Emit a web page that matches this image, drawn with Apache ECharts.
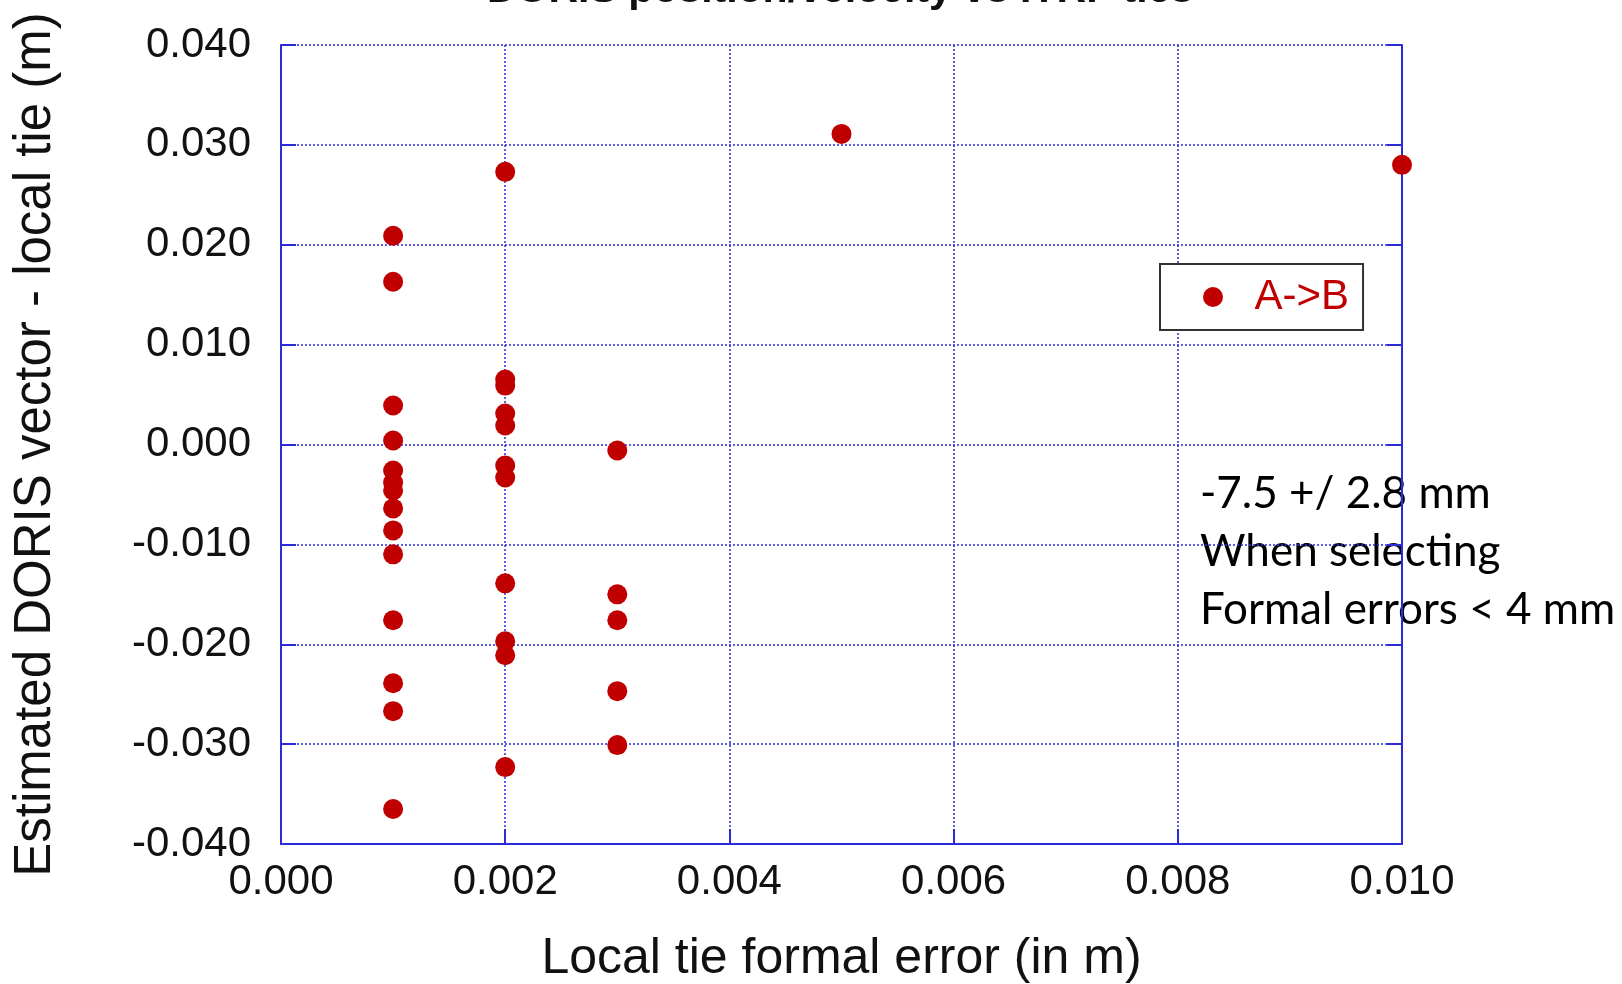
<!DOCTYPE html>
<html>
<head>
<meta charset="utf-8">
<title>Local tie scatter</title>
<script src="https://cdn.jsdelivr.net/npm/echarts@6/dist/echarts.min.js"></script>
<style>
  html, body { margin: 0; padding: 0; background: #fff; }
  #chart { width: 1622px; height: 984px; }
</style>
</head>
<body>
<div id="chart"></div>
<script>
// local tie formal error (m) and DORIS vector - local tie (m)
var formalError = [
  0.001, 0.001, 0.001, 0.001, 0.001, 0.001, 0.001, 0.001, 0.001, 0.001, 0.001, 0.001, 0.001, 0.001,
  0.002, 0.002, 0.002, 0.002, 0.002, 0.002, 0.002, 0.002, 0.002, 0.002, 0.002,
  0.003, 0.003, 0.003, 0.003, 0.003,
  0.005,
  0.010
]
var tieDiff = [
  0.0209, 0.0163, 0.0039, 0.0004, -0.0026, -0.0038, -0.0046, -0.0064, -0.0086, -0.0110, -0.0176, -0.0239, -0.0267, -0.0365,
  0.0273, 0.0065, 0.0059, 0.0031, 0.0019, -0.0021, -0.0033, -0.0139, -0.0197, -0.0211, -0.0323,
  -0.0006, -0.0150, -0.0176, -0.0247, -0.0301,
  0.0311,
  0.0280
]
var seriesName = 'A->B'
var titleText = 'DORIS position/velocity vs ITRF ties'
var noteLines = ['-7.5 +/ 2.8 mm', 'When selecting', 'Formal errors < 4 mm']

var points = formalError.map(function(x, i) {
  return [x, tieDiff[i]]
})

var blue = '#2b2bdc'
var red = '#c00000'
var labelFont = 'Liberation Sans, Arial, sans-serif'

var chart = echarts.init(document.getElementById('chart'))
chart.setOption({
  animation: false,
  backgroundColor: '#fff',
  grid: {
    left: 281,
    top: 45,
    width: 1121,
    height: 799,
    containLabel: false,
    outerBoundsMode: 'none'
  },
  legend: {
    data: [{ name: seriesName, icon: 'circle' }],
    left: 1160,
    top: 264,
    orient: 'vertical',
    padding: [12, 14, 12, 43],
    itemWidth: 73,
    itemHeight: 20,
    backgroundColor: '#fff',
    borderColor: '#333',
    borderWidth: 2,
    borderRadius: 0,
    z: 10,
    textStyle: {
      color: red,
      fontSize: 42,
      fontFamily: labelFont
    }
  },
  xAxis: {
    type: 'value',
    min: 0,
    max: 0.01,
    interval: 0.002,
    name: 'Local tie formal error (in m)',
    nameLocation: 'middle',
    nameGap: 90,
    nameTextStyle: { fontSize: 50, color: '#111', fontFamily: labelFont },
    axisLine: { onZero: false, lineStyle: { color: blue, width: 2 } },
    axisTick: { inside: true, length: 15, lineStyle: { color: blue, width: 2 } },
    axisLabel: {
      margin: 17,
      fontSize: 42,
      color: '#111',
      fontFamily: labelFont,
      formatter: function(v) { return v.toFixed(3) }
    },
    splitLine: { show: true, lineStyle: { color: blue, width: 1.5, type: [2, 2] } }
  },
  yAxis: [
    {
      type: 'value',
      min: -0.04,
      max: 0.04,
      interval: 0.01,
      name: 'Estimated DORIS vector - local tie (m)',
      nameLocation: 'middle',
      nameGap: 220,
      nameTextStyle: { fontSize: 51, color: '#111', fontFamily: labelFont },
      axisLine: { onZero: false, lineStyle: { color: blue, width: 2 } },
      axisTick: { inside: true, length: 15, lineStyle: { color: blue, width: 2 } },
      axisLabel: {
        margin: 30,
        fontSize: 42,
        color: '#111',
        fontFamily: labelFont,
        formatter: function(v) { return v.toFixed(3) }
      },
      splitLine: { show: true, lineStyle: { color: blue, width: 1.5, type: [2, 2] } }
    },
    {
      type: 'value',
      position: 'right',
      min: -0.04,
      max: 0.04,
      interval: 0.01,
      axisLine: { show: true, onZero: false, lineStyle: { color: blue, width: 2 } },
      axisTick: { inside: true, length: 15, lineStyle: { color: blue, width: 2 } },
      axisLabel: { show: false },
      splitLine: { show: false }
    }
  ],
  graphic: [
    {
      type: 'text',
      left: 487,
      top: -30,
      style: {
        text: titleText,
        fontSize: 41,
        fontWeight: 'bold',
        fontFamily: labelFont,
        fill: '#111'
      }
    },
    {
      type: 'text',
      left: 1200,
      top: 465,
      z: -10,
      style: {
        text: noteLines.join('\n'),
        fontSize: 44,
        lineHeight: 58,
        fontFamily: 'Lato, Open Sans, sans-serif',
        fill: '#000'
      }
    }
  ],
  series: [
    {
      name: seriesName,
      type: 'scatter',
      symbol: 'circle',
      symbolSize: 20,
      itemStyle: { color: red, opacity: 1 },
      data: points
    }
  ]
})
</script>
</body>
</html>
